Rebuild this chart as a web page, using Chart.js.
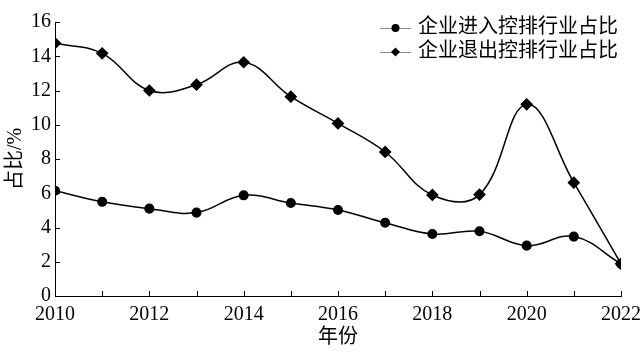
<!DOCTYPE html>
<html>
<head>
<meta charset="utf-8">
<script src="https://cdn.jsdelivr.net/npm/chart.js@4.4.1/dist/chart.umd.min.js"></script>
<style>
  html, body { margin: 0; padding: 0; background: #fff; }
  #wrap { width: 642px; height: 354px; }
</style>
</head>
<body>
<div id="wrap"><canvas id="chart" width="642" height="354"></canvas></div>
<script>
// data
const years = [2010, 2011, 2012, 2013, 2014, 2015, 2016, 2017, 2018, 2019, 2020, 2021, 2022];
const entryShare = [6.15, 5.5, 5.1, 4.87, 5.88, 5.43, 5.02, 4.28, 3.62, 3.78, 2.94, 3.47, 1.88];
const exitShare = [14.76, 14.17, 12.0, 12.34, 13.65, 11.64, 10.08, 8.41, 5.9, 5.92, 11.19, 6.62, 1.88];
const seriesNames = ['企业进入控排行业占比', '企业退出控排行业占比'];
const yTicks = [0, 2, 4, 6, 8, 10, 12, 14, 16];

const serif = '"Liberation Serif", "Times New Roman", "Noto Sans CJK SC", serif';
const cjk = '"Liberation Serif", "Noto Sans CJK SC", serif';

function toPoints(vals) {
    return years.map(function(y, i) { return { x: y, y: vals[i] }; });
}

// small tick marks pointing into the plot, plus the legend in the top right corner
const axisMarks = {
    id: 'axisMarks',
    afterDraw: function(chart) {
        const ctx = chart.ctx;
        const xs = chart.scales.x, ys = chart.scales.y;
        const area = chart.chartArea;
        ctx.save();
        ctx.strokeStyle = '#000';
        ctx.lineWidth = 1;
        ctx.beginPath();
        years.forEach(function(y) {
            const px = Math.round(xs.getPixelForValue(y)) + 0.5;
            ctx.moveTo(px, area.bottom);
            ctx.lineTo(px, area.bottom - 5);
        });
        yTicks.forEach(function(v) {
            const py = Math.round(ys.getPixelForValue(v)) + 0.5;
            ctx.moveTo(area.left, py);
            ctx.lineTo(area.left + 5, py);
        });
        ctx.stroke();

        // legend
        ctx.font = '20px ' + cjk;
        ctx.textBaseline = 'middle';
        chart.data.datasets.forEach(function(ds, i) {
            const cy = 28 + i * 24;
            ctx.strokeStyle = '#888';
            ctx.lineWidth = 1;
            ctx.beginPath();
            ctx.moveTo(380, cy + 0.5);
            ctx.lineTo(411, cy + 0.5);
            ctx.stroke();
            ctx.fillStyle = '#000';
            ctx.beginPath();
            if (ds.pointStyle === 'rectRot') {
                ctx.moveTo(395.5, cy - 4.5);
                ctx.lineTo(400, cy);
                ctx.lineTo(395.5, cy + 4.5);
                ctx.lineTo(391, cy);
                ctx.closePath();
            } else {
                ctx.arc(395.5, cy, 4, 0, Math.PI * 2);
            }
            ctx.fill();
            ctx.fillText(ds.label, 418, cy);
        });
        ctx.restore();
    }
};

new Chart(document.getElementById('chart'), {
    type: 'line',
    data: {
        datasets: [{
            label: seriesNames[0],
            data: toPoints(entryShare),
            borderColor: '#000',
            backgroundColor: '#000',
            borderWidth: 1.5,
            pointStyle: 'circle',
            pointRadius: 4.3,
            tension: 0.4
        }, {
            label: seriesNames[1],
            data: toPoints(exitShare),
            borderColor: '#000',
            backgroundColor: '#000',
            borderWidth: 1.5,
            pointStyle: 'rectRot',
            pointRadius: 5.3,
            tension: 0.4
        }]
    },
    options: {
        responsive: false,
        animation: false,
        layout: { padding: { top: 22, right: 21, left: 4, bottom: 0 } },
        plugins: {
            legend: { display: false },
            tooltip: { enabled: false }
        },
        scales: {
            x: {
                type: 'linear',
                min: 2010,
                max: 2022,
                afterFit: function(s) {
                    s.height = 58;
                    s.paddingLeft = 0;
                    s.paddingRight = 0;
                },
                grid: { display: false, drawTicks: false },
                border: { display: true, color: '#000', width: 1 },
                ticks: {
                    stepSize: 2,
                    padding: 7,
                    color: '#000',
                    font: { family: serif, size: 20 },
                    maxRotation: 0,
                    callback: function(v) { return String(v); }
                },
                title: {
                    display: true,
                    text: '年份',
                    color: '#000',
                    padding: { top: 3 },
                    font: { family: cjk, size: 20 }
                }
            },
            y: {
                min: 0,
                max: 16,
                afterFit: function(s) {
                    s.width = 51;
                    s.paddingTop = 0;
                    s.paddingBottom = 0;
                },
                grid: { display: false, drawTicks: false },
                border: { display: true, color: '#000', width: 1 },
                ticks: {
                    stepSize: 2,
                    padding: 4,
                    color: '#000',
                    font: { family: serif, size: 20 }
                },
                title: {
                    display: true,
                    text: '占比/%',
                    color: '#000',
                    padding: 0,
                    font: { family: cjk, size: 20 }
                }
            }
        }
    },
    plugins: [axisMarks]
});
</script>
</body>
</html>
